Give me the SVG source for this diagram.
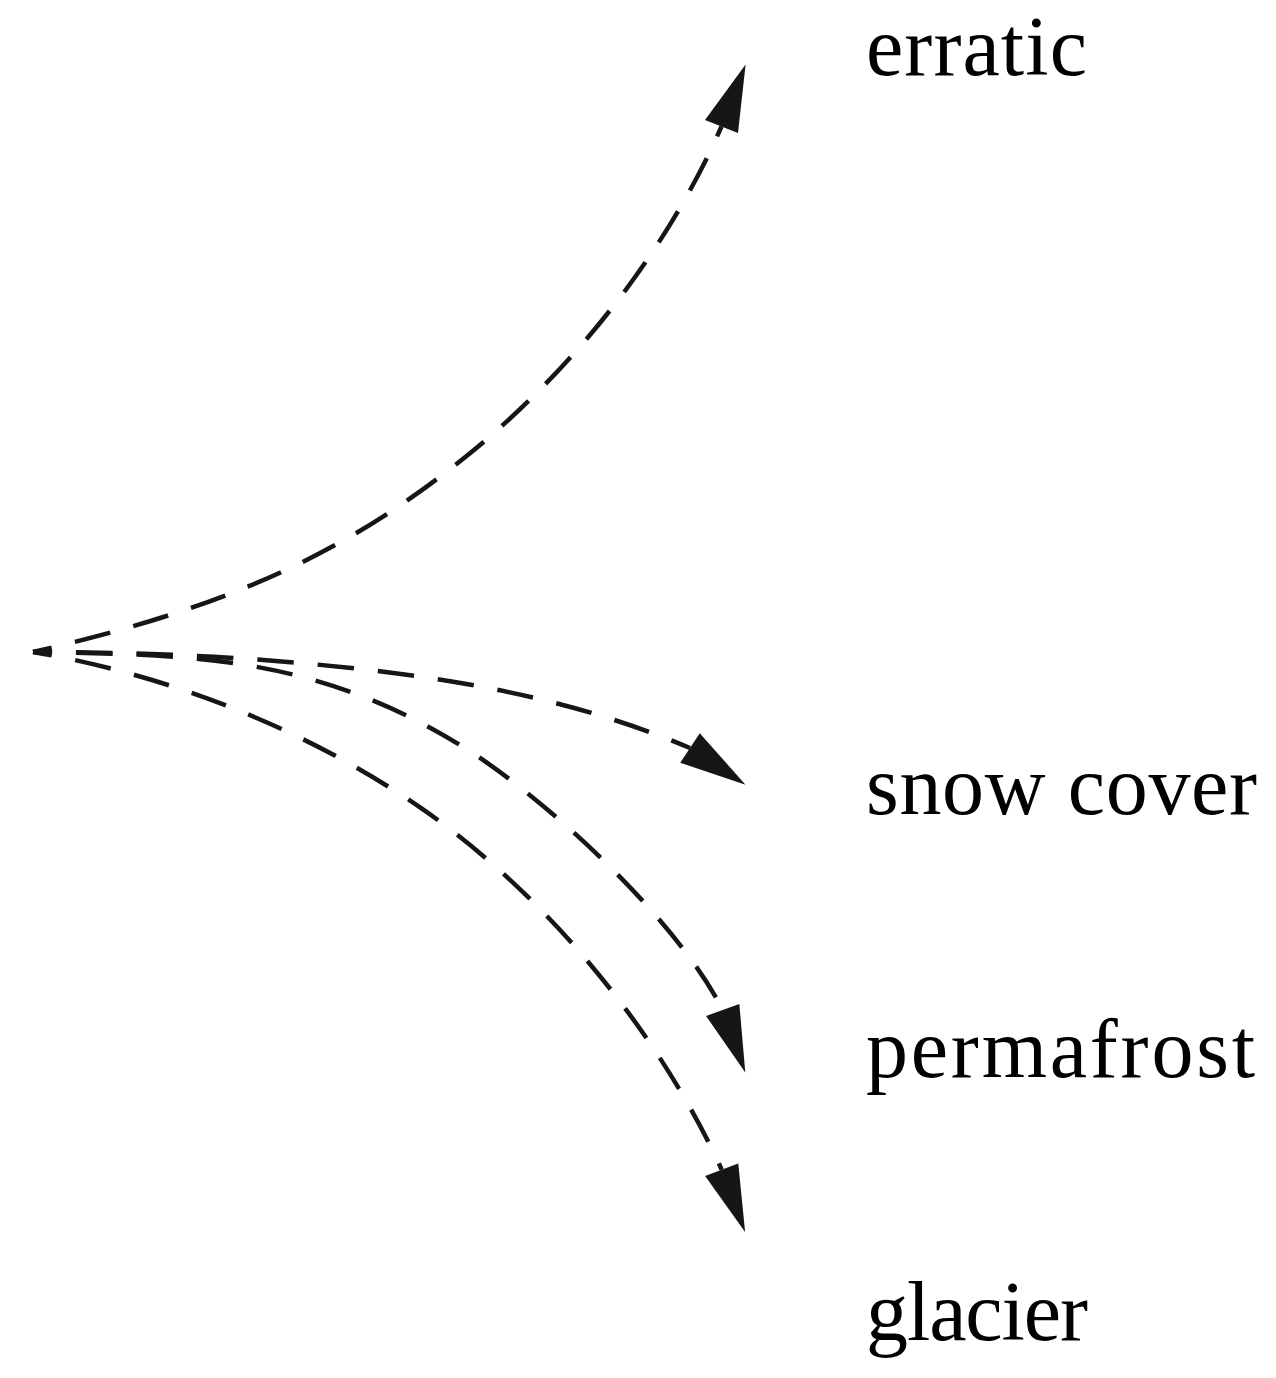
<svg xmlns="http://www.w3.org/2000/svg" xmlns:xlink="http://www.w3.org/1999/xlink" width="1276" height="1378" viewBox="0 0 1276 1378">
<style>
  .edge { fill: none; stroke: #161616; stroke-width: 4.5; stroke-dasharray: 36.5 24; stroke-dashoffset: 17.5; stroke-linecap: butt; }
  .label { font-family: "Liberation Serif", "DejaVu Serif", serif; font-size: 84px; fill: #000000; }
</style>
<defs>
  <path id="ah" fill="#161616" d="M0,-17.7 L66.5,0 L0,17.7 Z"/>
</defs>
<rect x="0" y="0" width="1276" height="1378" fill="#ffffff"/>
<g id="connectors">
  <path id="edge-erratic" class="edge" d="M33,652 C227.8,607.2 347.5,553.4 471.5,452 C579.9,363.2 669.5,245.6 721.5,126.5"/>
  <path id="edge-snow-cover" class="edge" d="M33,652 C156,652 280.8,658.2 402.8,674.2 C501,687.1 599,709.4 690,748"/>
  <path id="edge-permafrost" class="edge" d="M33,652 C180,655 311.1,652.1 463.7,747.3 C548.5,800.2 677.7,920.7 722.7,1010"/>
  <path id="edge-glacier" class="edge" d="M33,652 C171,675.5 308.3,729.9 423.3,809.7 C546.6,895.2 659.6,1033.2 721.7,1169.7"/>
  <use xlink:href="#ah" href="#ah" transform="translate(721.5,126.5) rotate(-68.74)"/>
  <use xlink:href="#ah" href="#ah" transform="translate(690,748) rotate(33.45)"/>
  <use xlink:href="#ah" href="#ah" transform="translate(722.7,1010) rotate(70.13)"/>
  <use xlink:href="#ah" href="#ah" transform="translate(721.7,1169.7) rotate(69.4)"/>
</g>
<g id="node-erratic">
  <text class="label" x="866" y="75" textLength="221">erratic</text>
</g>
<g id="node-snow-cover">
  <text class="label" x="866" y="814" textLength="391">snow cover</text>
</g>
<g id="node-permafrost">
  <text class="label" x="866" y="1077" textLength="389">permafrost</text>
</g>
<g id="node-glacier">
  <text class="label" x="866" y="1340" textLength="222">glacier</text>
</g>
</svg>
